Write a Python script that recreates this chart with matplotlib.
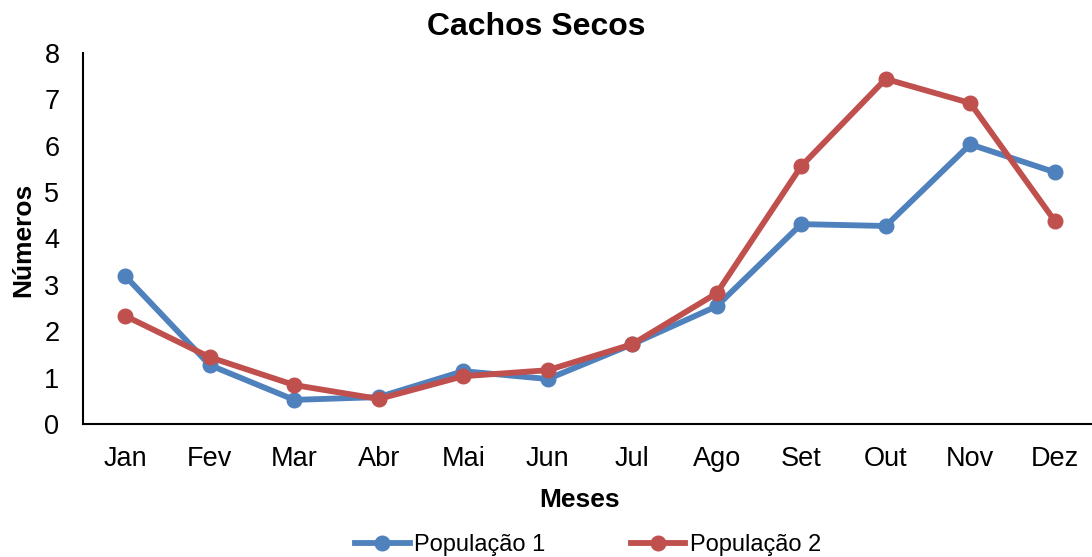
import matplotlib
matplotlib.use("Agg")
import matplotlib.pyplot as plt

months = ["Jan", "Fev", "Mar", "Abr", "Mai", "Jun", "Jul", "Ago", "Set", "Out", "Nov", "Dez"]
pop1 = [3.19, 1.27, 0.52, 0.58, 1.14, 0.97, 1.72, 2.54, 4.31, 4.27, 6.03, 5.43]
pop2 = [2.33, 1.44, 0.84, 0.54, 1.03, 1.16, 1.72, 2.82, 5.56, 7.44, 6.92, 4.38]
series_labels = ["População 1", "População 2"]
y_ticks = [0, 1, 2, 3, 4, 5, 6, 7, 8]

plt.rcParams["font.family"] = ["Liberation Sans", "DejaVu Sans"]

W, H = 1092, 557
fig = plt.figure(figsize=(W / 100, H / 100), dpi=100)
ax = fig.add_axes([83 / W, 1 - 424 / H, (1097 - 83) / W, (424 - 53) / H])

x = list(range(len(months)))
ax.plot(x, pop1, color="#4F81BD", lw=4.2, marker="o", ms=10.5, label=series_labels[0],
        solid_joinstyle="round")
ax.plot(x, pop2, color="#C0504D", lw=4.2, marker="o", ms=10.5, label=series_labels[1],
        solid_joinstyle="round")

ax.set_xlim(-0.5, 11.5)
ax.set_ylim(0, 8)
ax.set_yticks(y_ticks)
ax.set_xticks(x)
ax.set_xticklabels(months)
ax.tick_params(axis="both", length=0, labelsize=19.5)
ax.tick_params(axis="x", pad=16)
ax.tick_params(axis="y", pad=17)

for s in ["top", "right"]:
    ax.spines[s].set_visible(False)
for s in ["left", "bottom"]:
    ax.spines[s].set_linewidth(1.5)
    ax.spines[s].set_color("#000000")

fig.text(536 / W, 1 - 27 / H, "Cachos Secos", fontsize=23, fontweight="bold",
         ha="center", va="center")
ax.set_xlabel("Meses", fontsize=19, fontweight="bold", labelpad=14)
ax.xaxis.set_label_coords((580 - 83) / (1097 - 83), -(500 - 424) / (424 - 53))
ax.xaxis.label.set_va("center")
ax.set_ylabel("Números", fontsize=19, fontweight="bold")
ax.yaxis.set_label_coords(-(83 - 23) / (1097 - 83), (424 - 240) / (424 - 53))
ax.yaxis.label.set_va("center")

fig.legend(loc="center", bbox_to_anchor=(588 / W, 1 - 545 / H), ncol=2, frameon=False,
           fontsize=17, handlelength=2.3, columnspacing=3.6, handletextpad=0.2,
           borderpad=0)

fig.savefig("out.png", dpi=100)
